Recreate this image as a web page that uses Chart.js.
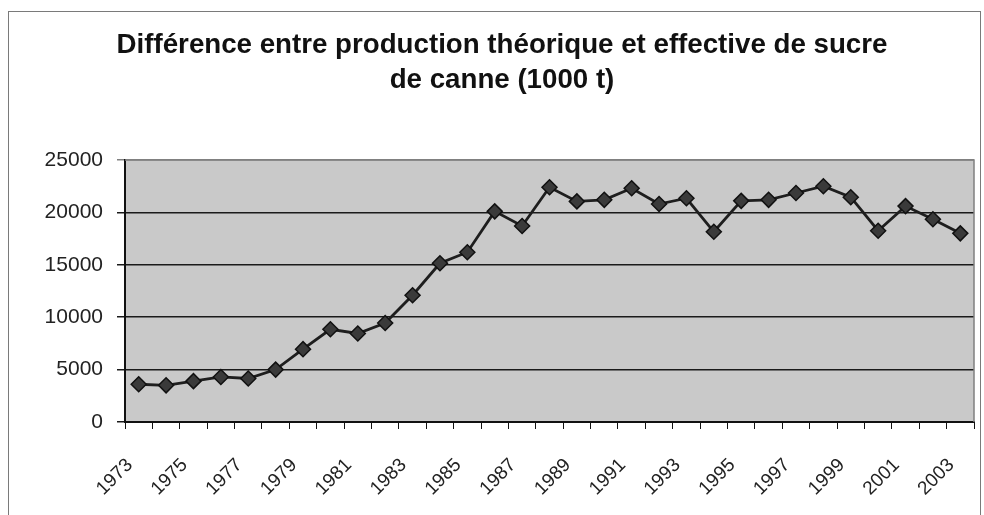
<!DOCTYPE html>
<html lang="fr">
<head>
<meta charset="utf-8">
<title>Différence entre production théorique et effective de sucre de canne</title>
<script src="https://cdn.jsdelivr.net/npm/chart.js@4.4.1/dist/chart.umd.min.js"></script>
<style>
  html, body { margin: 0; padding: 0; background: #fff; }
  #wrap { width: 984px; height: 515px; position: relative; }
</style>
</head>
<body>
<div id="wrap"><canvas id="sugarChart" width="984" height="515"></canvas></div>
<script>
const byId = (id) => document.getElementById(id);

// années (une étiquette sur deux est affichée)
const years = [
  "1973", "1974", "1975", "1976", "1977", "1978", "1979", "1980",
  "1981", "1982", "1983", "1984", "1985", "1986", "1987", "1988",
  "1989", "1990", "1991", "1992", "1993", "1994", "1995", "1996",
  "1997", "1998", "1999", "2000", "2001", "2002", "2003",
];

// différence en milliers de tonnes
const gap = [
  3600, 3500, 3900, 4300, 4150, 5000, 6950, 8850,
  8450, 9450, 12100, 15150, 16200, 20100, 18700, 22400,
  21050, 21200, 22300, 20800, 21350, 18150, 21100, 21200,
  21850, 22500, 21450, 18250, 20600, 19350, 18000,
];

const yTicks = [0, 5000, 10000, 15000, 20000, 25000];

const titleLines = [
  "Différence entre production théorique et effective de sucre",
  "de canne (1000 t)",
];

const FONT = "'Liberation Sans', Arial, sans-serif";

// fond gris de la zone de tracé, cadre et titre (centré comme dans Excel)
const plotFrame = {
  id: "plotFrame",
  beforeDraw(chart) {
    const { ctx, chartArea: a } = chart;
    ctx.save();
    ctx.strokeStyle = "#7a7a7a";
    ctx.lineWidth = 1;
    ctx.strokeRect(8.5, 11.5, 972, 520);
    ctx.fillStyle = "#c9c9c9";
    ctx.fillRect(a.left, a.top, a.right - a.left, a.bottom - a.top);

    ctx.fillStyle = "#111";
    ctx.font = `bold 27.7px ${FONT}`;
    ctx.textAlign = "center";
    ctx.textBaseline = "alphabetic";
    titleLines.forEach((line, i) => ctx.fillText(line, 502, 53 + i * 35));
    ctx.restore();
  },
  afterDatasetsDraw(chart) {
    const { ctx, chartArea: a } = chart;
    ctx.save();
    ctx.strokeStyle = "#808080";
    ctx.lineWidth = 1.5;
    ctx.beginPath();
    ctx.moveTo(a.left, a.top);
    ctx.lineTo(a.right, a.top);
    ctx.lineTo(a.right, a.bottom);
    ctx.stroke();
    ctx.restore();
  },
};

const initChart = () => {
  const canvas = byId("sugarChart");
  if (!canvas) return null;

  return new Chart(canvas, {
    type: "line",
    data: {
      labels: years,
      datasets: [
        {
          label: "Différence",
          data: gap,
          borderColor: "#1e1e1e",
          borderWidth: 2.8,
          tension: 0,
          pointStyle: "rectRot",
          pointRadius: 7.5,
          pointBackgroundColor: "#3a3a3a",
          pointBorderColor: "#111",
          pointBorderWidth: 1.5,
          fill: false,
        },
      ],
    },
    options: {
      responsive: false,
      animation: false,
      layout: { padding: { left: 0, right: 10, top: 160, bottom: 0 } },
      plugins: {
        legend: { display: false },
        tooltip: { enabled: false },
        title: { display: false },
      },
      scales: {
        x: {
          offset: true,
          grid: {
            offset: true,
            drawOnChartArea: false,
            drawTicks: true,
            tickLength: 7,
            color: "#111",
          },
          border: { display: true, color: "#111", width: 2 },
          ticks: {
            autoSkip: false,
            maxRotation: 45,
            minRotation: 45,
            padding: 25,
            labelOffset: -9,
            color: "#222",
            font: { family: FONT, size: 19 },
            callback: (value, index) => (index % 2 === 0 ? years[index] : ""),
          },
          afterFit: (scale) => {
            scale.height = 93;
            scale.paddingLeft = 0;
            scale.paddingRight = 0;
          },
        },
        y: {
          min: yTicks[0],
          max: yTicks[yTicks.length - 1],
          afterBuildTicks: (scale) => {
            scale.ticks = yTicks.map((v) => ({ value: v }));
          },
          grid: {
            color: (c) => (c.tick && c.tick.value === 25000 ? "#808080" : "#1a1a1a"),
            lineWidth: 1.5,
            drawTicks: true,
            tickLength: 8,
          },
          border: { display: true, color: "#111", width: 2 },
          ticks: {
            padding: 14,
            color: "#222",
            font: { family: FONT, size: 21 },
            callback: (value) => String(value),
          },
          afterFit: (scale) => {
            scale.width = 125;
            scale.paddingTop = 0;
            scale.paddingBottom = 0;
          },
        },
      },
    },
    plugins: [plotFrame],
  });
};

initChart();
</script>
</body>
</html>
